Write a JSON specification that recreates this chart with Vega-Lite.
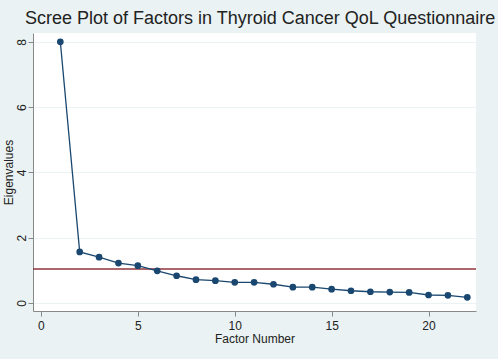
{
  "$schema": "https://vega.github.io/schema/vega-lite/v6.json",
  "autosize": "none",
  "width": 443,
  "height": 278,
  "padding": {"left": 33, "top": 33, "right": 22, "bottom": 48},
  "background": "#eaf2f3",
  "config": {
    "font": "Liberation Sans",
    "view": {"fill": "white", "stroke": null}
  },
  "title": {
    "text": "Scree Plot of Factors in Thyroid Cancer QoL Questionnaire",
    "anchor": "start",
    "frame": "group",
    "dx": -8,
    "offset": 5,
    "fontSize": 18,
    "fontWeight": "normal",
    "color": "#222222"
  },
  "layer": [
    {
      "data": {"values": [{"threshold": 1.04}]},
      "mark": {"type": "rule", "color": "#90353b", "strokeWidth": 1.5},
      "encoding": {
        "y": {"field": "threshold", "type": "quantitative", "scale": {"domain": [-0.25, 8.27], "nice": false, "zero": false}}
      }
    },
    {
      "data": {"values": [
        {"factor": 1, "eigenvalue": 8.0},
        {"factor": 2, "eigenvalue": 1.56},
        {"factor": 3, "eigenvalue": 1.40},
        {"factor": 4, "eigenvalue": 1.22},
        {"factor": 5, "eigenvalue": 1.14},
        {"factor": 6, "eigenvalue": 0.98},
        {"factor": 7, "eigenvalue": 0.83},
        {"factor": 8, "eigenvalue": 0.71},
        {"factor": 9, "eigenvalue": 0.68},
        {"factor": 10, "eigenvalue": 0.63},
        {"factor": 11, "eigenvalue": 0.63},
        {"factor": 12, "eigenvalue": 0.57},
        {"factor": 13, "eigenvalue": 0.48},
        {"factor": 14, "eigenvalue": 0.48},
        {"factor": 15, "eigenvalue": 0.42},
        {"factor": 16, "eigenvalue": 0.37},
        {"factor": 17, "eigenvalue": 0.34},
        {"factor": 18, "eigenvalue": 0.33},
        {"factor": 19, "eigenvalue": 0.32},
        {"factor": 20, "eigenvalue": 0.24},
        {"factor": 21, "eigenvalue": 0.23},
        {"factor": 22, "eigenvalue": 0.17}
      ]},
      "mark": {"type": "line", "color": "#1a476f", "strokeWidth": 1.3, "point": {"filled": true, "size": 45, "color": "#1a476f", "opacity": 1}},
      "encoding": {
        "x": {
          "field": "factor", "type": "quantitative",
          "scale": {"domain": [-0.41, 22.45], "nice": false, "zero": false},
          "axis": {
            "title": "Factor Number", "titleFontSize": 12, "titleFontWeight": "normal", "titleColor": "#222222", "titlePadding": 2,
            "values": [0, 5, 10, 15, 20], "grid": false,
            "labelFontSize": 12, "labelColor": "#222222", "labelPadding": 4,
            "domainColor": "#888888", "tickColor": "#888888", "tickSize": 5
          }
        },
        "y": {
          "field": "eigenvalue", "type": "quantitative",
          "scale": {"domain": [-0.25, 8.27], "nice": false, "zero": false},
          "axis": {
            "title": "Eigenvalues", "titleFontSize": 12, "titleFontWeight": "normal", "titleColor": "#222222",
            "titleX": -25, "titleY": 139, "titleAngle": 270, "titleAlign": "center", "titleBaseline": "middle",
            "values": [0, 2, 4, 6, 8], "grid": true, "gridColor": "#eaf2f3", "gridWidth": 1,
            "labelAngle": 270, "labelAlign": "center", "labelBaseline": "bottom", "labelFontSize": 12, "labelColor": "#222222", "labelPadding": 0,
            "domainColor": "#888888", "tickColor": "#888888", "tickSize": 5
          }
        }
      }
    }
  ]
}
